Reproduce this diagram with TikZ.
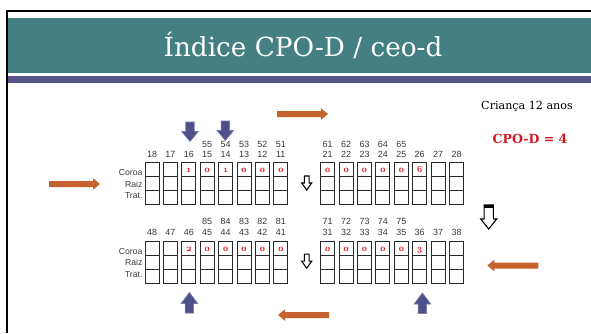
\documentclass[tikz,border=0pt]{standalone}
\usepackage{fontspec}
\setmainfont{DejaVu Serif}
\newfontfamily\numfont{Liberation Sans}
\newfontfamily\valfont{lmroman10-bold.otf}[Numbers=OldStyle]

\tikzset{every picture/.style={line width=0.75pt}}
\tikzset{
  tooth/.style={draw={rgb, 255:red, 40; green, 40; blue, 40 }, line width=0.7pt},
  num/.style={inner sep=0pt, text={rgb, 255:red, 55; green, 55; blue, 55 }, font=\numfont\fontsize{6.7}{7}\selectfont},
  rowlabel/.style={anchor=east, inner sep=0pt, text={rgb, 255:red, 60; green, 60; blue, 60 }, font=\numfont\fontsize{6.5}{7}\selectfont},
  val/.style={anchor=base, inner sep=0pt, text={rgb, 255:red, 225; green, 30; blue, 35 }, font=\valfont\fontsize{7}{8}\selectfont},
  bluearrow/.style={fill={rgb, 255:red, 78; green, 80; blue, 138 }, draw={rgb, 255:red, 120; green, 122; blue, 168 }, line width=0.5pt},
  orangearrow/.style={fill={rgb, 255:red, 197; green, 98; blue, 45 }, draw=none},
  hollowarrow/.style={fill=white, draw=black, line width=0.8pt},
}

\begin{document}
\begin{tikzpicture}[x=0.75pt,y=0.75pt,yscale=-1,xscale=1]
\useasboundingbox (0,0) rectangle (591,333);

%Shape: Rectangle [title band]
\fill [color={rgb, 255:red, 68; green, 128; blue, 131 }] (8,18) rectangle (591,72.7) ;
%Shape: Rectangle [rule under title]
\fill [color={rgb, 255:red, 85; green, 85; blue, 138 }] (8,76) rectangle (591,83.3) ;
%Straight Lines [frame]
\draw [line width=1.6pt] (591,10.6) -- (7,10.6) -- (7,333) ;

% Text Node
\draw (303,56) node [anchor=base, inner sep=0pt, text=white, font=\fontsize{19.7}{24}\selectfont] (title) {Índice CPO-D / ceo-d};
% Text Node
\draw (527,109) node [anchor=base, inner sep=0pt, font=\fontsize{8.35}{10}\selectfont] (child) {Criança 12 anos};
% Text Node
\draw (530,143.3) node [anchor=base, inner sep=0pt, text={rgb, 255:red, 210; green, 25; blue, 35 }, font=\bfseries\fontsize{9.4}{11}\selectfont] (index) {CPO-D = 4};

%Shape: Tooth boxes [upper left]
\foreach \tn [count=\i from 0] in {18,17,16,15,14,13,12,11} {
  \draw [tooth] ({145+18.4*\i},162.3) rectangle ++(14,42) ({145+18.4*\i},176.3) -- ++(14,0) ({145+18.4*\i},190.3) -- ++(14,0) ;
  \draw ({152+18.4*\i},154) node [num] (t\tn) {\tn};
}
\foreach \tn [count=\i from 3] in {55,54,53,52,51}
  \draw ({152+18.4*\i},144) node [num] (t\tn) {\tn};
\foreach \cv [count=\i from 2] in {1,0,1,0,0,0}
  \draw ({152+18.4*\i},172) node [val] (ul\i) {\cv};

%Shape: Tooth boxes [upper right]
\foreach \tn [count=\i from 0] in {21,22,23,24,25,26,27,28} {
  \draw [tooth] ({320.7+18.4*\i},162.3) rectangle ++(14,42) ({320.7+18.4*\i},176.3) -- ++(14,0) ({320.7+18.4*\i},190.3) -- ++(14,0) ;
  \draw ({327.7+18.4*\i},154) node [num] (t\tn) {\tn};
}
\foreach \tn [count=\i from 0] in {61,62,63,64,65}
  \draw ({327.7+18.4*\i},144) node [num] (t\tn) {\tn};
\foreach \cv [count=\i from 0] in {0,0,0,0,0,6}
  \draw ({327.7+18.4*\i},172) node [val] (ur\i) {\cv};

%Shape: Tooth boxes [lower left]
\foreach \tn [count=\i from 0] in {48,47,46,45,44,43,42,41} {
  \draw [tooth] ({145+18.4*\i},241) rectangle ++(14,42) ({145+18.4*\i},255) -- ++(14,0) ({145+18.4*\i},269) -- ++(14,0) ;
  \draw ({152+18.4*\i},232.7) node [num] (t\tn) {\tn};
}
\foreach \tn [count=\i from 3] in {85,84,83,82,81}
  \draw ({152+18.4*\i},221.7) node [num] (t\tn) {\tn};
\foreach \cv [count=\i from 2] in {2,0,0,0,0,0}
  \draw ({152+18.4*\i},251) node [val] (ll\i) {\cv};

%Shape: Tooth boxes [lower right]
\foreach \tn [count=\i from 0] in {31,32,33,34,35,36,37,38} {
  \draw [tooth] ({320.7+18.4*\i},241) rectangle ++(14,42) ({320.7+18.4*\i},255) -- ++(14,0) ({320.7+18.4*\i},269) -- ++(14,0) ;
  \draw ({327.7+18.4*\i},232.7) node [num] (t\tn) {\tn};
}
\foreach \tn [count=\i from 0] in {71,72,73,74,75}
  \draw ({327.7+18.4*\i},221.7) node [num] (t\tn) {\tn};
\foreach \cv [count=\i from 0] in {0,0,0,0,0,3}
  \draw ({327.7+18.4*\i},251) node [val] (lr\i) {\cv};

% Text Node
\draw (143,173) node [rowlabel] (crownup) {Coroa};
% Text Node
\draw (143,184.3) node [rowlabel] (rootup) {Raiz};
% Text Node
\draw (143,195.5) node [rowlabel] (treatup) {Trat.};
% Text Node
\draw (143,251.7) node [rowlabel] (crownlow) {Coroa};
% Text Node
\draw (143,262.6) node [rowlabel] (rootlow) {Raiz};
% Text Node
\draw (143,274.2) node [rowlabel] (treatlow) {Trat.};

%Shape: Down Arrow [blue]
\draw [bluearrow, shift={(190,122)}] (-4.2,0) -- (4.2,0) -- (4.2,9.5) -- (8.3,9.5) -- (0,19.5) -- (-8.3,9.5) -- (-4.2,9.5) -- cycle ;
%Shape: Down Arrow [blue]
\draw [bluearrow, shift={(225.3,121)}] (-4.2,0) -- (4.2,0) -- (4.2,9.5) -- (8.3,9.5) -- (0,19.5) -- (-8.3,9.5) -- (-4.2,9.5) -- cycle ;
%Shape: Up Arrow [blue]
\draw [bluearrow, shift={(189.4,313)}, rotate=180] (-4.2,0) -- (4.2,0) -- (4.2,9.5) -- (8.3,9.5) -- (0,20.5) -- (-8.3,9.5) -- (-4.2,9.5) -- cycle ;
%Shape: Up Arrow [blue]
\draw [bluearrow, shift={(422.4,313.5)}, rotate=180] (-4.2,0) -- (4.2,0) -- (4.2,9.5) -- (8.3,9.5) -- (0,20.5) -- (-8.3,9.5) -- (-4.2,9.5) -- cycle ;

%Shape: Right Arrow [orange]
\fill [orangearrow, shift={(277,114)}] (0,-3) -- (44,-3) -- (44,-5.8) -- (51,0) -- (44,5.8) -- (44,3) -- (0,3) -- cycle ;
%Shape: Right Arrow [orange]
\fill [orangearrow, shift={(49,184)}] (0,-3) -- (44,-3) -- (44,-5.8) -- (51,0) -- (44,5.8) -- (44,3) -- (0,3) -- cycle ;
%Shape: Left Arrow [orange]
\fill [orangearrow, shift={(329,315)}, rotate=180] (0,-3) -- (44,-3) -- (44,-5.8) -- (51,0) -- (44,5.8) -- (44,3) -- (0,3) -- cycle ;
%Shape: Left Arrow [orange]
\fill [orangearrow, shift={(538.3,265.5)}, rotate=180] (0,-3) -- (44,-3) -- (44,-5.8) -- (51,0) -- (44,5.8) -- (44,3) -- (0,3) -- cycle ;

%Shape: Down Arrow [hollow]
\draw [hollowarrow, shift={(306.7,176)}] (-2.4,0) -- (2.4,0) -- (2.4,7) -- (5,7) -- (0,14) -- (-5,7) -- (-2.4,7) -- cycle ;
%Shape: Down Arrow [hollow]
\draw [hollowarrow, shift={(306.7,254.2)}] (-2.4,0) -- (2.4,0) -- (2.4,7) -- (5,7) -- (0,14) -- (-5,7) -- (-2.4,7) -- cycle ;
%Shape: Down Arrow [hollow]
\draw [hollowarrow, shift={(488.7,205)}] (-4.6,0) -- (4.6,0) -- (4.6,14) -- (8,14) -- (0,24) -- (-8,14) -- (-4.6,14) -- cycle ;
\fill [shift={(488.7,205)}] (-4.6,0) rectangle (4.6,3) ;

\end{tikzpicture}
\end{document}
